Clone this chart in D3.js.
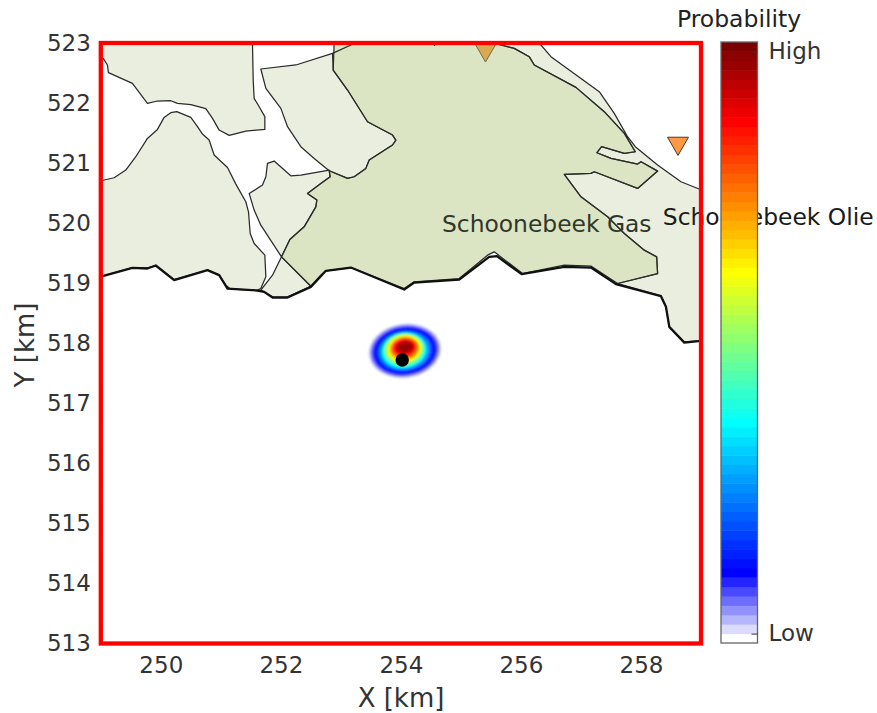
<!DOCTYPE html>
<html>
<head>
<meta charset="utf-8">
<style>
  body { margin: 0; background: #fff; }
  text { font-family: "DejaVu Sans", sans-serif; }
</style>
<script src="https://cdn.jsdelivr.net/npm/d3@7"></script>
</head>
<body>
<div id="chart"></div>
<script>
// all map coordinates in km
var xTicks = [250, 252, 254, 256, 258]
var yTicks = [513, 514, 515, 516, 517, 518, 519, 520, 521, 522, 523]

var fieldTopLeft = [[249,522.745],[249.04,522.745],[249.11,522.634],[249.127,522.506],[249.527,522.328],[249.777,521.995],[249.944,522.034],[250.166,522.039],[250.277,521.995],[250.5,521.973],[250.75,521.906],[250.861,521.745],[250.972,521.55],[251.139,521.461],[251.416,521.534],[251.733,521.561],[251.733,521.773],[251.639,521.939],[251.555,522.078],[251.539,522.384],[251.527,523],[249,523]]

var fieldLeft = [[249,520.706],[249.222,520.756],[249.416,520.884],[249.583,521.106],[249.777,521.411],[249.944,521.561],[250.055,521.761],[250.166,521.839],[250.266,521.856],[250.5,521.761],[250.611,521.606],[250.694,521.484],[250.805,521.384],[250.888,521.134],[251.111,520.928],[251.25,520.65],[251.416,520.356],[251.461,520.189],[251.489,519.828],[251.555,519.661],[251.733,519.467],[251.75,519.106],[251.666,518.911],[251.611,518.884],[251.166,518.9],[251.083,518.967],[250.972,519.134],[250.777,519.217],[250.222,519.061],[249.916,519.295],[249.777,519.256],[249.527,519.261],[249.039,519.123],[249,519.11]]

var fieldMid = [[251.666,522.567],[252.25,522.634],[252.861,522.828],[252.872,522.55],[253.111,522.217],[253.444,521.689],[253.861,521.467],[253.916,521.384],[253.861,521.301],[253.472,521.051],[253.416,520.912],[253.222,520.773],[253.111,520.745],[252.805,520.873],[252.555,521.078],[252.333,521.273],[252.111,521.606],[252,521.911],[251.75,522.245]]

var fieldSmall = [[251.472,520.495],[251.694,520.634],[251.75,520.773],[251.777,520.995],[251.888,521.034],[252.166,520.789],[252.333,520.8],[252.805,520.884],[252.822,520.773],[252.666,520.661],[252.444,520.495],[252.6,520.384],[252.583,520.272],[252.388,519.939],[252.15,519.728],[252.011,519.439],[251.666,519.967],[251.555,520.217]]

var fieldBottom = [[252.011,519.439],[252.5,518.95],[252.111,518.772],[251.861,518.772],[251.666,518.884],[251.861,519.134]]

var fieldOlie = [[255.666,522.967],[255.888,522.911],[256.138,522.772],[256.222,522.634],[256.916,522.261],[257.388,521.856],[257.722,521.495],[257.905,521.189],[257.722,521.161],[257.344,521.273],[257.266,521.173],[257.5,521.078],[257.944,520.984],[258,521.023],[258.277,520.867],[257.944,520.578],[257.222,520.856],[257.166,520.828],[256.722,520.811],[257,520.439],[257.444,520.106],[257.722,519.828],[258.055,519.55],[258.261,519.439],[258.277,519.161],[257.611,518.995],[258.333,518.79],[258.416,518.606],[258.472,518.272],[258.722,518.022],[259.083,518.05],[259.083,520.55],[258.989,520.561],[258.666,520.689],[258.277,520.967],[257.905,521.273],[257.777,521.439],[257.555,521.828],[257.305,522.189],[256.5,522.772],[256.305,523],[255.5,523]]

var fieldGas = [[252.888,523],[252.872,522.55],[253.111,522.217],[253.444,521.689],[253.861,521.467],[253.916,521.384],[253.861,521.301],[253.472,521.051],[253.416,520.912],[253.222,520.773],[253.111,520.745],[252.805,520.873],[252.822,520.773],[252.666,520.661],[252.444,520.495],[252.6,520.384],[252.583,520.272],[252.388,519.939],[252.15,519.728],[252.011,519.439],[252.5,518.95],[252.666,519.134],[252.75,519.206],[253.166,519.261],[254.055,518.911],[254.222,519.023],[254.972,519.078],[255.444,519.467],[255.555,519.522],[256.027,519.161],[256.722,519.301],[257.166,519.284],[257.611,518.995],[258.277,519.161],[258.261,519.439],[258.055,519.55],[257.722,519.828],[257.444,520.106],[257,520.439],[256.722,520.811],[257.166,520.828],[257.222,520.856],[257.944,520.578],[258.277,520.867],[258,521.023],[257.944,520.984],[257.5,521.078],[257.266,521.173],[257.344,521.273],[257.722,521.161],[257.905,521.189],[257.722,521.495],[257.388,521.856],[256.916,522.261],[256.222,522.634],[256.138,522.772],[255.888,522.911],[255.666,522.967],[255.5,523]]

var crossLine = [[252.861,522.828],[253.166,522.967],[253.25,523]]
var topNotch = [[254.53,523],[254.56,522.96],[254.6,523]]

var borderLine = [[249,519.11],[249.527,519.256],[249.777,519.245],[249.916,519.295],[250.222,519.05],[250.777,519.217],[250.972,519.134],[251.111,518.911],[251.611,518.878],[251.722,518.856],[251.861,518.761],[252.111,518.761],[252.5,518.939],[252.75,519.206],[253.166,519.261],[254.055,518.895],[254.222,519.011],[254.972,519.061],[255.472,519.439],[255.6,519.45],[256.011,519.15],[256.722,519.272],[257.166,519.261],[257.583,518.984],[258.333,518.784],[258.416,518.606],[258.472,518.272],[258.722,518.011],[259.083,518.05]]

var wells = [[255.41,522.885],[258.617,521.33]]
var wellLabels = ["Schoonebeek Gas", "Schoonebeek Olie"]
var wellLabelPos = [[256.43,519.857],[260.12,519.97]]
var event = [254.022, 517.722]

// probability blob, nested contours by colour level
var blobLevel = [1,3,5,7,10,14,18,23,27,31,35,39,43,47,51,55,58,61]
var blobX = [254.066,254.066,254.066,254.066,254.066,254.061,254.061,254.055,254.055,254.055,254.055,254.061,254.061,254.061,254.061,254.061,254.066,254.072]
var blobY = [517.873,517.873,517.873,517.873,517.873,517.873,517.878,517.878,517.889,517.9,517.906,517.906,517.911,517.917,517.922,517.928,517.934,517.934]
var blobRx = [.61,.585,.555,.52,.48,.44,.405,.37,.345,.325,.3,.275,.25,.23,.205,.18,.15,.12]
var blobRy = [.455,.435,.41,.385,.355,.325,.31,.29,.275,.26,.24,.22,.2,.18,.16,.135,.11,.08]

var colorStops = [0, 7, 23, 39, 55, 63]
var colorValues = ["#ffffff", "#0000ff", "#00ffff", "#ffff00", "#ff0000", "#7a0000"]
var levelCount = 64
var cbTicks = [1, 63]
var cbLabels = ["Low", "High"]

var width = 877, height = 713
var x = d3.scaleLinear().domain([249, 259]).range([100.8, 701])
var y = d3.scaleLinear().domain([513, 523]).range([643.5, 43])
var cbY = d3.scaleLinear().domain([0, levelCount]).range([643, 42])
var jet = d3.scaleLinear().domain(colorStops).range(colorValues)
var kmX = 60

var svg = d3.select("#chart").append("svg")
  .attr("width", width)
  .attr("height", height)
  .style("display", "block")

var defs = svg.append("defs")
defs.append("clipPath").attr("id", "clip")
  .append("rect")
  .attr("x", x(249)).attr("y", y(523))
  .attr("width", x(259) - x(249)).attr("height", y(513) - y(523))
defs.append("filter").attr("id", "soft")
  .append("feGaussianBlur").attr("stdDeviation", 0.8)

var line = d3.line().x(d => x(d[0])).y(d => y(d[1]))
var triangle = d3.symbol().type(d3.symbolTriangle).size(191)

// wells sit under the semi transparent fields
svg.selectAll(".well").data(wells).enter().append("path")
  .attr("class", "well")
  .attr("d", triangle)
  .attr("transform", d => "translate(" + x(d[0]) + "," + y(d[1]) + ") rotate(180)")
  .attr("fill", "#ff9944")
  .attr("stroke", "#4a3a2a")
  .attr("stroke-width", 1)

var map = svg.append("g")
  .attr("clip-path", "url(#clip)")
  .attr("stroke-linejoin", "round")

var lightFields = [fieldTopLeft, fieldLeft, fieldMid, fieldSmall, fieldBottom, fieldOlie]
map.selectAll(".light").data(lightFields).enter().append("path")
  .attr("class", "light")
  .attr("d", d => line(d) + "Z")
  .attr("fill", "#eaeede")
  .attr("stroke", "#2a2a2a")
  .attr("stroke-width", 1.25)

map.append("path")
  .attr("d", line(fieldGas) + "Z")
  .attr("fill", "#a5be69")
  .attr("fill-opacity", 0.4)
  .attr("stroke", "#2a2a2a")
  .attr("stroke-width", 1.25)

map.selectAll(".extra").data([crossLine, topNotch]).enter().append("path")
  .attr("class", "extra")
  .attr("d", line)
  .attr("fill", "none")
  .attr("stroke", "#2a2a2a")
  .attr("stroke-width", 1.25)

map.append("path")
  .attr("d", line(borderLine))
  .attr("fill", "none")
  .attr("stroke", "#111")
  .attr("stroke-width", 2.3)

// blob
var blob = map.append("g").attr("filter", "url(#soft)")
blobLevel.forEach(function(level, i) {
  blob.append("ellipse")
    .attr("transform", "translate(" + x(blobX[i]) + "," + y(blobY[i]) + ") rotate(-8)")
    .attr("rx", blobRx[i] * kmX)
    .attr("ry", blobRy[i] * kmX)
    .attr("fill", jet(level))
})

map.append("circle")
  .attr("cx", x(event[0])).attr("cy", y(event[1]))
  .attr("r", 6.7)
  .attr("fill", "#000")

// labels
svg.append("text")
  .attr("x", x(wellLabelPos[0][0])).attr("y", y(wellLabelPos[0][1]))
  .attr("text-anchor", "middle")
  .style("font-size", "23.4px")
  .attr("fill", "#30362a")
  .text(wellLabels[0])

svg.append("text")
  .attr("x", x(wellLabelPos[1][0])).attr("y", y(wellLabelPos[1][1]))
  .attr("text-anchor", "middle")
  .style("font-size", "23.4px")
  .attr("fill", "#1a1a1a")
  .text(wellLabels[1])

// frame
svg.append("rect")
  .attr("x", x(249)).attr("y", y(523))
  .attr("width", x(259) - x(249)).attr("height", y(513) - y(523))
  .attr("fill", "none")
  .attr("stroke", "#ff0000")
  .attr("stroke-width", 4.3)

// axes
var xAxis = d3.axisBottom(x).tickValues(xTicks).tickFormat(d3.format("d")).tickSize(0).tickPadding(13)
var yAxis = d3.axisLeft(y).tickValues(yTicks).tickFormat(d3.format("d")).tickSize(0).tickPadding(10)

var gx = svg.append("g").attr("transform", "translate(0," + y(513) + ")").call(xAxis)
var gy = svg.append("g").attr("transform", "translate(" + x(249) + ",0)").call(yAxis)
gx.select(".domain").remove()
gy.select(".domain").remove()
svg.selectAll("g.tick text").style("font-size", "23px").attr("fill", "#333")

svg.append("text")
  .attr("x", 401).attr("y", 707)
  .attr("text-anchor", "middle")
  .style("font-size", "26px")
  .attr("fill", "#333")
  .text("X [km]")

svg.append("text")
  .attr("transform", "translate(34,345) rotate(-90)")
  .attr("text-anchor", "middle")
  .style("font-size", "26px")
  .attr("fill", "#333")
  .text("Y [km]")

// colorbar
var cb = svg.append("g")
cb.selectAll("rect").data(d3.range(levelCount)).enter().append("rect")
  .attr("x", 721)
  .attr("y", d => cbY(d + 1))
  .attr("width", 36.5)
  .attr("height", d => cbY(d) - cbY(d + 1) + 0.5)
  .attr("fill", d => jet(d))

svg.append("rect")
  .attr("x", 721).attr("y", cbY(levelCount))
  .attr("width", 36.5).attr("height", cbY(0) - cbY(levelCount))
  .attr("fill", "none")
  .attr("stroke", "#666")
  .attr("stroke-width", 1.3)

var cbAxis = d3.axisRight(cbY)
  .tickValues(cbTicks)
  .tickFormat((d, i) => cbLabels[i])
  .tickSizeInner(-6)
  .tickSizeOuter(0)
  .tickPadding(11)

var gc = svg.append("g").attr("transform", "translate(757.5,0)").call(cbAxis)
gc.select(".domain").remove()
gc.selectAll("line").attr("stroke", "#333")
gc.selectAll("text").style("font-size", "23px").attr("fill", "#333")

svg.append("text")
  .attr("x", 739).attr("y", 27)
  .attr("text-anchor", "middle")
  .style("font-size", "23.5px")
  .attr("fill", "#222")
  .text("Probability")
</script>
</body>
</html>
